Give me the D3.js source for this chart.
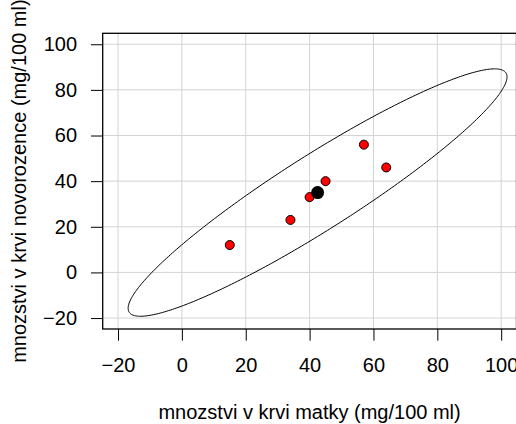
<!DOCTYPE html>
<html>
<head>
<meta charset="utf-8">
<script src="https://cdn.jsdelivr.net/npm/d3@7"></script>
<style>
  body { margin: 0; background: #fff; }
  svg { display: block; font-family: "Liberation Sans", Arial, sans-serif; }
</style>
</head>
<body>
<div id="chart"></div>
<script>
// size of the picture
const width = 516;
const height = 424;

// data
const matka = [15, 34, 40, 45, 57, 64];
const novorozenec = [12, 23, 33, 40, 56, 46];
const xTicks = [-20, 0, 20, 40, 60, 80, 100];
const yTicks = [-20, 0, 20, 40, 60, 80, 100];
const xLabel = "mnozstvi v krvi matky (mg/100 ml)";
const yLabel = "mnozstvi v krvi novorozence (mg/100 ml)";
const ellipseScale = 3.41;

// plot region (R pads limits by 4%)
const plot = {left: 102.7, right: 516.5, top: 33.3, bottom: 329};
const fontSize = "20px";

const svg = d3.select("#chart")
  .append("svg")
  .attr("width", width)
  .attr("height", height);

const x = d3.scaleLinear()
  .domain([-24.8, 104.8])
  .range([plot.left, plot.right]);

const y = d3.scaleLinear()
  .domain([-24.8, 104.8])
  .range([plot.bottom, plot.top]);

// grid
svg.append("g")
  .selectAll("line")
  .data(xTicks)
  .join("line")
    .attr("x1", d => x(d)).attr("x2", d => x(d))
    .attr("y1", plot.top).attr("y2", plot.bottom)
    .attr("stroke", "#d3d3d3").attr("stroke-width", 1);

svg.append("g")
  .selectAll("line")
  .data(yTicks)
  .join("line")
    .attr("x1", plot.left).attr("x2", plot.right)
    .attr("y1", d => y(d)).attr("y2", d => y(d))
    .attr("stroke", "#d3d3d3").attr("stroke-width", 1);

// axes
const fmt = d => d < 0 ? "\u2212" + Math.abs(d) : d;

const xAxis = svg.append("g")
  .attr("transform", `translate(0,${plot.bottom})`)
  .call(d3.axisBottom(x).tickValues(xTicks).tickSize(11.7).tickPadding(17).tickFormat(fmt));

const yAxis = svg.append("g")
  .attr("transform", `translate(${plot.left},0)`)
  .call(d3.axisLeft(y).tickValues(yTicks).tickSize(11.7).tickPadding(14).tickFormat(fmt));

[xAxis, yAxis].forEach(g => {
  g.select(".domain").remove();
  g.selectAll("line").attr("stroke", "#000").attr("stroke-width", 1);
  g.selectAll("text")
    .attr("fill", "#000")
    .attr("font-size", fontSize)
    .attr("font-family", "Liberation Sans, Arial, sans-serif");
});

// box round the plot region
svg.append("rect")
  .attr("x", plot.left).attr("y", plot.top)
  .attr("width", plot.right - plot.left)
  .attr("height", plot.bottom - plot.top)
  .attr("fill", "none")
  .attr("stroke", "#000")
  .attr("stroke-width", 1.3);

// axis titles
svg.append("text")
  .attr("x", (plot.left + plot.right) / 2)
  .attr("y", 419)
  .attr("text-anchor", "middle")
  .attr("font-size", fontSize)
  .text(xLabel);

svg.append("text")
  .attr("transform", `translate(26,${(plot.top + plot.bottom) / 2}) rotate(-90)`)
  .attr("text-anchor", "middle")
  .attr("font-size", fontSize)
  .text(yLabel);

// ellipse from mean and covariance of the points
const n = matka.length;
const mx = d3.mean(matka);
const my = d3.mean(novorozenec);
const sxx = d3.sum(matka, v => (v - mx) ** 2) / (n - 1);
const syy = d3.sum(novorozenec, v => (v - my) ** 2) / (n - 1);
const sxy = d3.sum(matka, (v, i) => (v - mx) * (novorozenec[i] - my)) / (n - 1);
// cholesky factor
const l11 = Math.sqrt(sxx);
const l21 = sxy / l11;
const l22 = Math.sqrt(syy - l21 * l21);

const angles = d3.range(0, 2 * Math.PI, Math.PI / 180);
const ellipse = angles.map(t => {
  const u = Math.cos(t), v = Math.sin(t);
  return [mx + ellipseScale * l11 * u, my + ellipseScale * (l21 * u + l22 * v)];
});

svg.append("path")
  .datum(ellipse)
  .attr("fill", "none")
  .attr("stroke", "#000")
  .attr("stroke-width", 1)
  .attr("d", d3.line().x(d => x(d[0])).y(d => y(d[1])).curve(d3.curveLinearClosed));

// points
svg.append("g")
  .selectAll("circle")
  .data(matka)
  .join("circle")
    .attr("cx", d => x(d))
    .attr("cy", (d, i) => y(novorozenec[i]))
    .attr("r", 4.5)
    .attr("fill", "#ff0000")
    .attr("stroke", "#000")
    .attr("stroke-width", 1);

// mean point
svg.append("circle")
  .attr("cx", x(mx))
  .attr("cy", y(my))
  .attr("r", 6.5)
  .attr("fill", "#000");
</script>
</body>
</html>
